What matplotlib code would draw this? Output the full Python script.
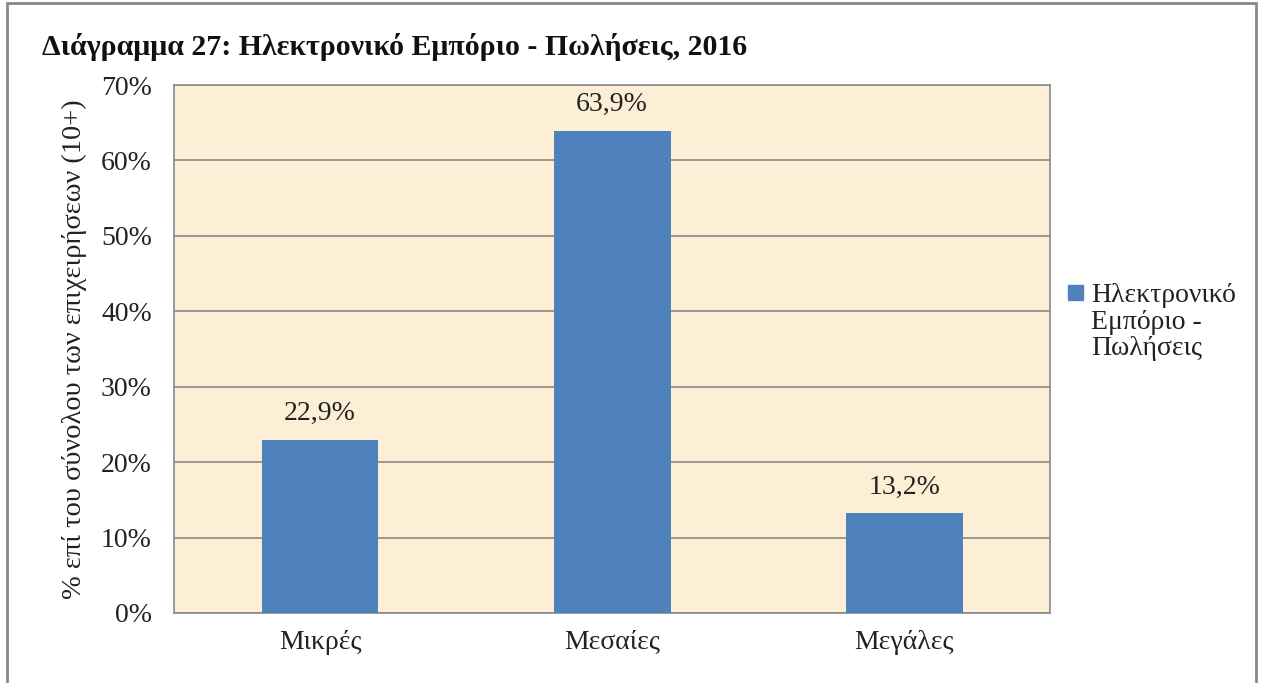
import matplotlib.pyplot as plt
import matplotlib.patches as mpatches
from matplotlib.legend_handler import HandlerPatch
import numpy as np

plt.rcParams['font.family'] = ['Liberation Serif', 'DejaVu Serif']

categories = ['Μικρές', 'Μεσαίες', 'Μεγάλες']
values = [22.9, 63.9, 13.2]
series_name = 'Ηλεκτρονικό\nΕμπόριο -\nΠωλήσεις'
title = 'Διάγραμμα 27: Ηλεκτρονικό Εμπόριο - Πωλήσεις, 2016'
ylabel = '% επί του σύνολου των επιχειρήσεων (10+)'

fig = plt.figure(figsize=(12.62, 6.83), dpi=100)
ax = fig.add_axes([0.1379, 0.1025, 0.6943, 0.773])
ax.set_facecolor('#FCEFD5')

x = np.arange(len(categories))
bars = ax.bar(x, values, width=0.4, color='#4F81BD', zorder=3, label=series_name)

for rect, v in zip(bars, values):
    ax.annotate(('%.1f' % v).replace('.', ',') + '%',
                (rect.get_x() + rect.get_width() / 2, v),
                xytext=(0, 10), textcoords='offset points',
                ha='center', va='bottom', fontsize=20, color='#222222')

ax.set_xlim(-0.5, 2.5)
ax.set_ylim(0, 70)
ax.set_yticks(range(0, 71, 10))
ax.set_yticklabels(['%d%%' % t for t in range(0, 71, 10)])
ax.set_xticks(x)
ax.set_xticklabels(categories)
ax.tick_params(axis='both', length=0, labelsize=20, colors='#222222')
ax.tick_params(axis='x', pad=12)
ax.tick_params(axis='y', pad=16)
ax.yaxis.grid(True, color='#8a8a8a', linewidth=1.2, zorder=1)
for s in ax.spines.values():
    s.set_color('#8a8a8a')
    s.set_linewidth(1.2)

ax.set_ylabel(ylabel, fontsize=20.5, color='#222222', labelpad=10)

fig.text(42 / 1262, 1 - 47 / 683, title, fontsize=21.5, fontweight='bold',
         ha='left', va='center', color='#111111')


# legend marker sits beside the first line of the wrapped label
def top_square(legend, orig_handle, xdescent, ydescent, width, height, fontsize):
    return mpatches.Rectangle((width - height - xdescent, -ydescent + fontsize * 1.05),
                              height, height)


leg = fig.legend(handles=[mpatches.Patch(color='#4F81BD', label=series_name)],
                 loc='center left', bbox_to_anchor=(1045 / 1262, 1 - 322 / 683),
                 frameon=False, fontsize=20, handlelength=0.45, handleheight=0.45,
                 handletextpad=0.3, labelspacing=0.2,
                 handler_map={mpatches.Patch: HandlerPatch(patch_func=top_square)})
for t in leg.get_texts():
    t.set_linespacing(1.08)
    t.set_color('#222222')

fig.patches.append(mpatches.Rectangle((7 / 1262, -0.01), 1249 / 1262, 1 - 3 / 683 + 0.01,
                                      transform=fig.transFigure, fill=False,
                                      edgecolor='#888888', linewidth=2))

fig.savefig('out.png', dpi=100)
